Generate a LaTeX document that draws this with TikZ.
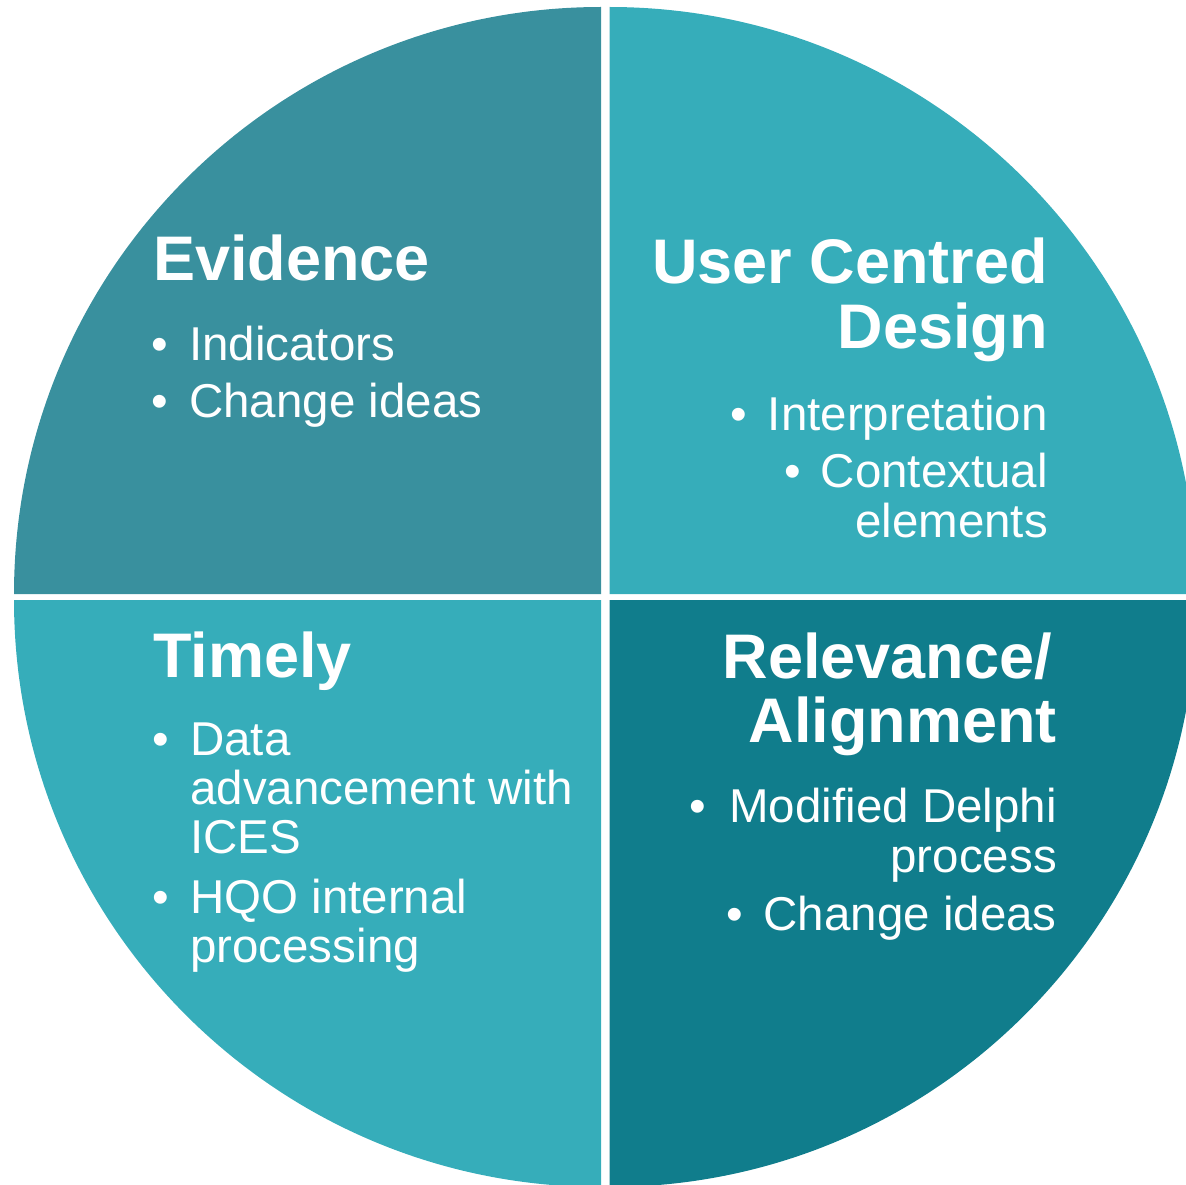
\documentclass[tikz,border=0pt]{standalone}
\usepackage{fontspec}
\setmainfont{Liberation Sans}
\definecolor{qtl}{RGB}{57,144,158}
\definecolor{qtr}{RGB}{54,173,186}
\definecolor{qbl}{RGB}{54,173,186}
\definecolor{qbr}{RGB}{16,125,140}
\tikzset{
  ttl/.style={text=white,inner sep=0pt,font=\fontsize{63}{65}\selectfont\bfseries},
  txt/.style={text=white,inner sep=0pt,font=\fontsize{47.5}{50}\selectfont},
  bul/.style={text=white,inner sep=0pt,anchor=base,font=\fontsize{47.5}{50}\selectfont},
}
\begin{document}
\begin{tikzpicture}[x=1pt,y=1pt]
\useasboundingbox (0,-1185) rectangle (1186,0);
\clip (0,-1185) rectangle (1186,0);
% quadrants
\fill[qtl] (601,-594) -- (14,-594) arc[start angle=180,end angle=90,radius=587] -- cycle;
\fill[qtr] (609.5,-594) -- (609.5,-7) arc[start angle=90,end angle=0,radius=587] -- cycle;
\fill[qbl] (601,-600) -- (14,-600) arc[start angle=180,end angle=270,radius=587] -- cycle;
\fill[qbr] (609.5,-600) -- (1196.5,-600) arc[start angle=0,end angle=-90,radius=587] -- cycle;
% top left
\node[ttl,anchor=base west] (evt) at (153,-280) {Evidence};
\node[bul] (evb1) at (160,-360) {•};
\node[txt,anchor=base west] (ev1) at (189,-360) {Indicators};
\node[bul] (evb2) at (160,-417) {•};
\node[txt,anchor=base west] (ev2) at (189,-417) {Change ideas};
% top right
\node[ttl,anchor=base east] (uct1) at (1048,-283) {User Centred};
\node[ttl,anchor=base east] (uct2) at (1048,-348) {Design};
\node[bul] (ucb1) at (739,-430) {•};
\node[txt,anchor=base east] (uc1) at (1048,-430) {Interpretation};
\node[bul] (ucb2) at (793,-487) {•};
\node[txt,anchor=base east] (uc2) at (1048,-487) {Contextual};
\node[txt,anchor=base east] (uc3) at (1048,-537) {elements};
% bottom left
\node[ttl,anchor=base west] (tmt) at (153,-677) {Timely};
\node[bul] (tmb1) at (161,-755) {•};
\node[txt,anchor=base west] (tm1) at (190,-755) {Data};
\node[txt,anchor=base west] (tm2) at (190,-804) {advancement with};
\node[txt,anchor=base west] (tm3) at (190,-853) {ICES};
\node[bul] (tmb2) at (161,-913) {•};
\node[txt,anchor=base west] (tm4) at (190,-913) {HQO internal};
\node[txt,anchor=base west] (tm5) at (190,-962) {processing};
% bottom right
\node[ttl,anchor=base east] (rat1) at (1052,-678) {Relevance/};
\node[ttl,anchor=base east] (rat2) at (1057,-742) {Alignment};
\node[bul] (rab1) at (698,-822) {•};
\node[txt,anchor=base east] (ra1) at (1057,-822) {Modified Delphi};
\node[txt,anchor=base east] (ra2) at (1057,-872) {process};
\node[bul] (rab2) at (735,-930) {•};
\node[txt,anchor=base east] (ra3) at (1057,-930) {Change ideas};
\end{tikzpicture}
\end{document}
